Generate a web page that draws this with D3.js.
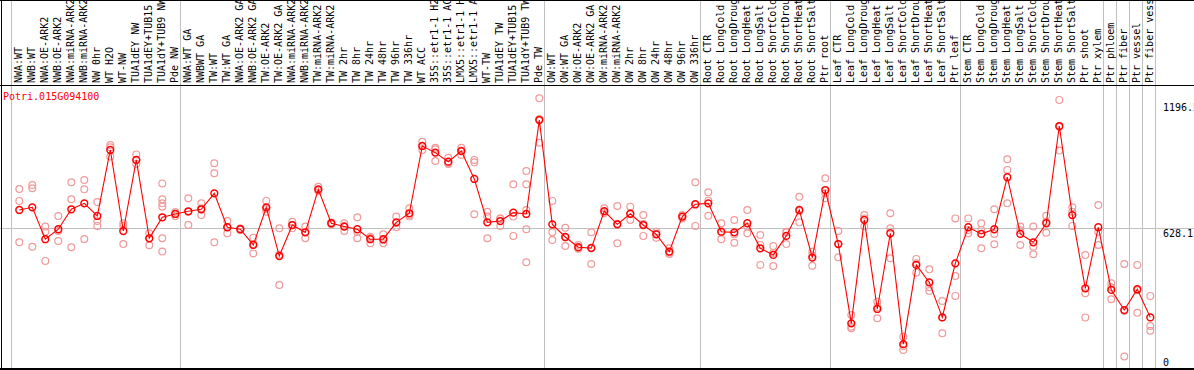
<!DOCTYPE html>
<html>
<head>
<meta charset="utf-8">
<script src="https://cdn.jsdelivr.net/npm/d3@7"></script>
<style>
  body { margin: 0; background: #fff; }
  text { font-family: "DejaVu Sans Mono", monospace; font-size: 10px; }
</style>
</head>
<body>
<div id="chart"></div>
<script>
const width = 1194
const height = 370

// sample names, one per column
const labels = [
  "NWA:WT", "NWB:WT", "NWA:OE-ARK2", "NWB:OE-ARK2", "NWA:miRNA-ARK2", "NWB:miRNA-ARK2", "NW 0hr", "WT H2O", "WT-NW",
  "TUA1dEY NW", "TUA1dEY+TUB15 NW", "TUA1dY+TUB9 NW", "Pde NW",
  "NWA:WT GA", "NWBWT GA", "TW:WT", "TW:WT GA", "NWA:OE-ARK2 GA", "NWB:OE-ARK2 GA", "TW:OE-ARK2", "TW:OE-ARK2 GA",
  "NWA:miRNA-ARK2", "NWB:miRNA-ARK2", "TW:miRNA-ARK2", "TW:miRNA-ARK2", "TW 2hr", "TW 8hr", "TW 24hr", "TW 48hr",
  "TW 96hr", "TW 336hr", "WT ACC", "35S::etr1-1 H2O", "35S::etr1-1 ACC", "LMX5::etr1-1 H2O", "LMX5::etr1-1 ACC",
  "WT-TW", "TUA1dEY TW", "TUA1dEY+TUB15 TW", "TUA1dY+TUB9 TW", "Pde TW",
  "OW:WT", "OW:WT GA", "OW:OE-ARK2", "OW:OE-ARK2 GA", "OW:miRNA-ARK2", "OW:miRNA-ARK2", "OW 2hr", "OW 8hr",
  "OW 24hr", "OW 48hr", "OW 96hr", "OW 336hr",
  "Root CTR", "Root LongCold", "Root LongDrought", "Root LongHeat", "Root LongSalt", "Root ShortCold",
  "Root ShortDrought", "Root ShortHeat", "Root ShortSalt", "Ptr root",
  "Leaf CTR", "Leaf LongCold", "Leaf LongDrought", "Leaf LongHeat", "Leaf LongSalt", "Leaf ShortCold",
  "Leaf ShortDrought", "Leaf ShortHeat", "Leaf ShortSalt", "Ptr leaf",
  "Stem CTR", "Stem LongCold", "Stem LongDrought", "Stem LongHeat", "Stem LongSalt", "Stem ShortCold",
  "Stem ShortDrought", "Stem ShortHeat", "Stem ShortSalt", "Ptr shoot",
  "Ptr xylem", "Ptr phloem", "Ptr fiber", "Ptr vessel", "Ptr fiber vessel"
]

// mean expression per column
const means = [
  709, 721, 577, 622, 712, 739, 682, 980, 614, 935,
  581, 676, 691, 703, 712, 784, 631, 622, 551, 721,
  501, 641, 608, 802, 649, 634, 622, 577, 577, 653,
  694, 998, 968, 927, 975, 849, 653, 659, 697, 691,
  1115, 644, 587, 541, 537, 704, 644, 692, 641, 599,
  521, 679, 735, 739, 611, 608, 649, 536, 506, 592,
  709, 494, 799, 555, 197, 664, 262, 604, 103, 461,
  382, 224, 468, 631, 601, 622, 857, 601, 563, 649,
  1088, 686, 355, 631, 348, 257, 351, 224
]

// individual replicates per column
const replicates = [
  [804, 750, 563], [822, 807, 543], [634, 611, 479], [682, 614, 569], [834, 757, 541],
  [844, 802, 578], [745, 659, 637], [1002, 992, 950], [649, 637, 555], [960, 917, 935],
  [604, 581, 550], [829, 757, 739, 724, 581, 521], [700, 691, 682], [762, 701, 641], [739, 717, 686],
  [920, 875, 563], [659, 631, 604], [626, 623, 619], [584, 555, 513], [750, 713, 701],
  [626, 507, 370], [656, 641, 626], [634, 610, 581], [814, 799, 795], [652, 650, 644],
  [649, 637, 614], [676, 610, 581], [588, 582, 559], [599, 573, 559], [679, 650, 631],
  [717, 686, 679], [1017, 997, 980], [990, 983, 930], [945, 920, 917], [990, 978, 957],
  [935, 924, 690], [701, 679, 581], [671, 670, 637], [825, 679, 592], [885, 825, 709, 622, 473],
  [1213, 1120, 1013], [750, 608, 573], [629, 586, 546], [551, 536, 534], [608, 539, 465],
  [717, 701, 695], [727, 647, 559], [724, 690, 664], [686, 646, 592], [611, 602, 584],
  [536, 516, 510], [686, 679, 671], [834, 733, 637], [789, 751, 683], [649, 608, 577],
  [664, 599, 561], [709, 634, 604], [596, 551, 461], [546, 515, 456], [611, 608, 555],
  [769, 704, 653], [521, 503, 457], [852, 784, 762], [614, 557, 495], [235, 182, 175],
  [686, 671, 634], [295, 271, 220], [694, 626, 491], [137, 95, 77], [488, 468, 426],
  [441, 360, 343], [298, 223, 152], [671, 411, 321], [671, 619, 604], [649, 619, 536],
  [712, 601, 554], [938, 890, 739], [634, 617, 551], [634, 543, 509], [683, 656, 606],
  [1206, 1085, 977], [721, 701, 637], [506, 333, 224], [731, 611, 551], [378, 360, 306],
  [465, 254, 47], [461, 346, 245], [321, 185, 164]
]

// columns after which a grey separator is drawn (-1 = before the first)
const groupEnds = [-1, 12, 40, 52, 62, 72, 83, 84, 85, 86, 87]

const yTicks = [0, 628.1, 1196.5]
const yTickLabels = ["0", "628.1", "1196.5"]
const geneName = "Potri.015G094100"

const headerBottom = 85
const plotBottom = 369

const svg = d3.select("#chart")
    .append("svg")
    .attr("width", width)
    .attr("height", height)

const x = d3.scaleLinear()
    .domain([0, labels.length - 1])
    .range([19.3, 1150.3])

const y = d3.scaleLinear()
    .domain([0, 1196.5])
    .range([367, 102])

// separadores de grupo
svg.append("g").selectAll("line")
    .data(groupEnds)
    .join("line")
    .attr("x1", d => Math.round(x(d + 0.36)) + 0.5)
    .attr("x2", d => Math.round(x(d + 0.36)) + 0.5)
    .attr("y1", 0)
    .attr("y2", height)
    .attr("stroke", "#c0c0c0")

// linea de referencia horizontal
svg.append("line")
    .attr("x1", 0).attr("x2", width)
    .attr("y1", Math.round(y(628.1)) + 0.5).attr("y2", Math.round(y(628.1)) + 0.5)
    .attr("stroke", "#c0c0c0")

// bordes negros
const frame = svg.append("g").attr("stroke", "#000")
frame.append("line").attr("x1", 0).attr("x2", width).attr("y1", 0.5).attr("y2", 0.5)
frame.append("line").attr("x1", 0).attr("x2", width).attr("y1", headerBottom + 0.5).attr("y2", headerBottom + 0.5)
frame.append("line").attr("x1", 0).attr("x2", width).attr("y1", plotBottom).attr("y2", plotBottom).attr("stroke-width", 2)
frame.append("line").attr("x1", 1.5).attr("x2", 1.5).attr("y1", 0).attr("y2", height)

// etiquetas de muestra, giradas
svg.append("g").selectAll("text")
    .data(labels)
    .join("text")
    .attr("transform", (d, i) => `translate(${x(i) + 2.8},83) rotate(-90)`)
    .attr("fill", "#000")
    .text(d => d)

// eje derecho
svg.append("g").selectAll("text")
    .data(yTicks)
    .join("text")
    .attr("x", 1163)
    .attr("y", d => Math.min(y(d) + 9, 366))
    .attr("fill", "#000")
    .text((d, i) => yTickLabels[i])

// titulo del gen
svg.append("text")
    .attr("x", 3)
    .attr("y", 100)
    .attr("fill", "#ff0000")
    .text(geneName)

// replicas
const repData = replicates.flatMap((arr, i) => arr.map(v => ({i, v})))
svg.append("g").selectAll("circle")
    .data(repData)
    .join("circle")
    .attr("cx", d => x(d.i))
    .attr("cy", d => y(d.v))
    .attr("r", 3.4)
    .attr("fill", "none")
    .attr("stroke", "#f09a9a")
    .attr("stroke-width", 1.2)

// linea de medias
const line = d3.line()
    .x((d, i) => x(i))
    .y(d => y(d))

svg.append("path")
    .datum(means)
    .attr("d", line)
    .attr("fill", "none")
    .attr("stroke", "#ff0000")
    .attr("stroke-width", 1.1)

svg.append("g").selectAll("circle")
    .data(means)
    .join("circle")
    .attr("cx", (d, i) => x(i))
    .attr("cy", d => y(d))
    .attr("r", 3.4)
    .attr("fill", "none")
    .attr("stroke", "#ff0000")
    .attr("stroke-width", 1.5)
</script>
</body>
</html>
